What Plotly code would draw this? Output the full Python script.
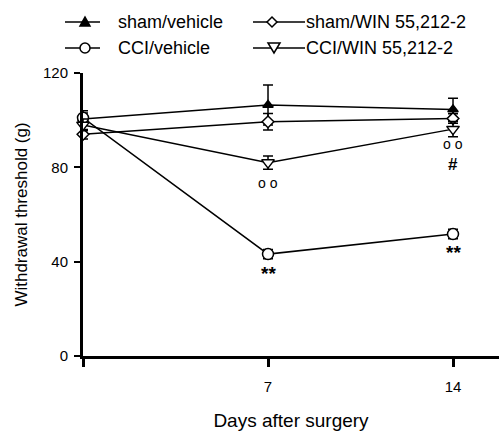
import plotly.graph_objects as go

days = [0, 7, 14]
sham_vehicle = [100.5, 106.4, 104.5]
sham_vehicle_err = [2.5, 8.5, 4.8]
sham_win = [94.0, 99.3, 100.7]
sham_win_err = [2.0, 3.5, 2.0]
cci_vehicle = [101.0, 43.2, 51.7]
cci_vehicle_err = [3.0, 2.0, 2.0]
cci_win = [98.0, 82.0, 96.2]
cci_win_err = [2.5, 2.8, 3.2]

series = [
    ("sham/vehicle", sham_vehicle, sham_vehicle_err, "triangle-up", 9, "black"),
    ("sham/WIN 55,212-2", sham_win, sham_win_err, "diamond", 9, "white"),
    ("CCI/vehicle", cci_vehicle, cci_vehicle_err, "circle", 11, "white"),
    ("CCI/WIN 55,212-2", cci_win, cci_win_err, "triangle-down", 11, "white"),
]

W, H = 499, 431
ML, MR, MT, MB = 83, 0, 73, 75
PW, PH = W - ML - MR, H - MT - MB


def px(x, y):
    return (x - ML) / PW, (H - MB - y) / PH


fig = go.Figure()
for name, vals, errs, sym, size, fill in series:
    fig.add_trace(go.Scatter(
        x=days, y=vals, name=name, mode="lines+markers", cliponaxis=False,
        line=dict(color="black", width=1.5),
        marker=dict(symbol=sym, size=size, color=fill,
                    line=dict(color="black", width=1.5)),
        error_y=dict(type="data", array=errs, visible=True, color="black",
                     thickness=1.5, width=5),
        showlegend=False,
    ))

# significance markers
ann_x = [7, 14, 14, 7, 14]
ann_y = [73.3, 90, 81.4, 35.0, 43.8]
ann_text = ["o o", "o o", "#", "**", "**"]
ann_size = [14, 14, 17, 19, 19]
for ax_, ay_, t, s in zip(ann_x, ann_y, ann_text, ann_size):
    fig.add_annotation(x=ax_, y=ay_, text=f"<b>{t}</b>" if t != "o o" else t,
                       showarrow=False,
                       font=dict(size=s, color="black", family="Liberation Sans"))

# manual legend
legend_items = [
    ("sham/vehicle", 65, 100, 85, 22, 116, "tri_up"),
    ("sham/WIN 55,212-2", 253, 305, 272, 22, 304, "diamond"),
    ("CCI/vehicle", 65, 100, 85, 48, 116, "circle"),
    ("CCI/WIN 55,212-2", 253, 305, 274, 48, 304, "tri_down"),
]
for label, x0, x1, mx, yy, tx, kind in legend_items:
    a0, b0 = px(x0, yy)
    a1, _ = px(x1, yy)
    fig.add_shape(type="line", xref="paper", yref="paper", x0=a0, x1=a1, y0=b0, y1=b0,
                  line=dict(color="black", width=1.5))
    r = 5
    if kind == "circle":
        c0 = px(mx - r, yy - r); c1 = px(mx + r, yy + r)
        fig.add_shape(type="circle", xref="paper", yref="paper",
                      x0=c0[0], x1=c1[0], y0=c1[1], y1=c0[1],
                      fillcolor="white", line=dict(color="black", width=1.5))
    else:
        if kind == "tri_up":
            pts = [(mx - 5, yy + 4), (mx + 5, yy + 4), (mx, yy - 5)]
            fill = "black"
        elif kind == "tri_down":
            pts = [(mx - 6, yy - 5), (mx + 6, yy - 5), (mx, yy + 5)]
            fill = "white"
        else:
            pts = [(mx - 5, yy), (mx, yy - 5), (mx + 5, yy), (mx, yy + 5)]
            fill = "white"
        pp = [px(*p) for p in pts]
        path = "M " + " L ".join(f"{p[0]:.5f},{p[1]:.5f}" for p in pp) + " Z"
        fig.add_shape(type="path", xref="paper", yref="paper", path=path,
                      fillcolor=fill, line=dict(color="black", width=1.5))
    ta, tb = px(tx, yy)
    fig.add_annotation(xref="paper", yref="paper", x=ta, y=tb, xanchor="left",
                       yanchor="middle", text=label, showarrow=False,
                       font=dict(size=18, color="black", family="Liberation Sans"))

fig.update_layout(
    width=W, height=H,
    margin=dict(l=ML, r=MR, t=MT, b=MB, autoexpand=False),
    paper_bgcolor="white", plot_bgcolor="white",
    font=dict(family="Liberation Sans", size=15, color="black"),
    showlegend=False,
    xaxis=dict(range=[0, 15.74], tickvals=[0, 7, 14], ticktext=["", "7", "14"],
               showline=True, linecolor="black", linewidth=3,
               ticks="outside", ticklen=8, tickwidth=3, tickcolor="black",
               ticklabelstandoff=7, automargin=False,
               showgrid=False, zeroline=False,
               title=dict(text="Days after surgery", standoff=20, font=dict(size=19))),
    yaxis=dict(range=[0, 120], tickvals=[0, 40, 80, 120],
               showline=True, linecolor="black", linewidth=3,
               ticks="outside", ticklen=6, tickwidth=2, tickcolor="black",
               ticklabelstandoff=3, automargin=False,
               showgrid=False, zeroline=False,
               title=dict(text="Withdrawal threshold (g)", standoff=12, font=dict(size=17))),
)
fig.write_html("out.html", config={"displayModeBar": False},
               post_script="document.body.style.margin='0';")
